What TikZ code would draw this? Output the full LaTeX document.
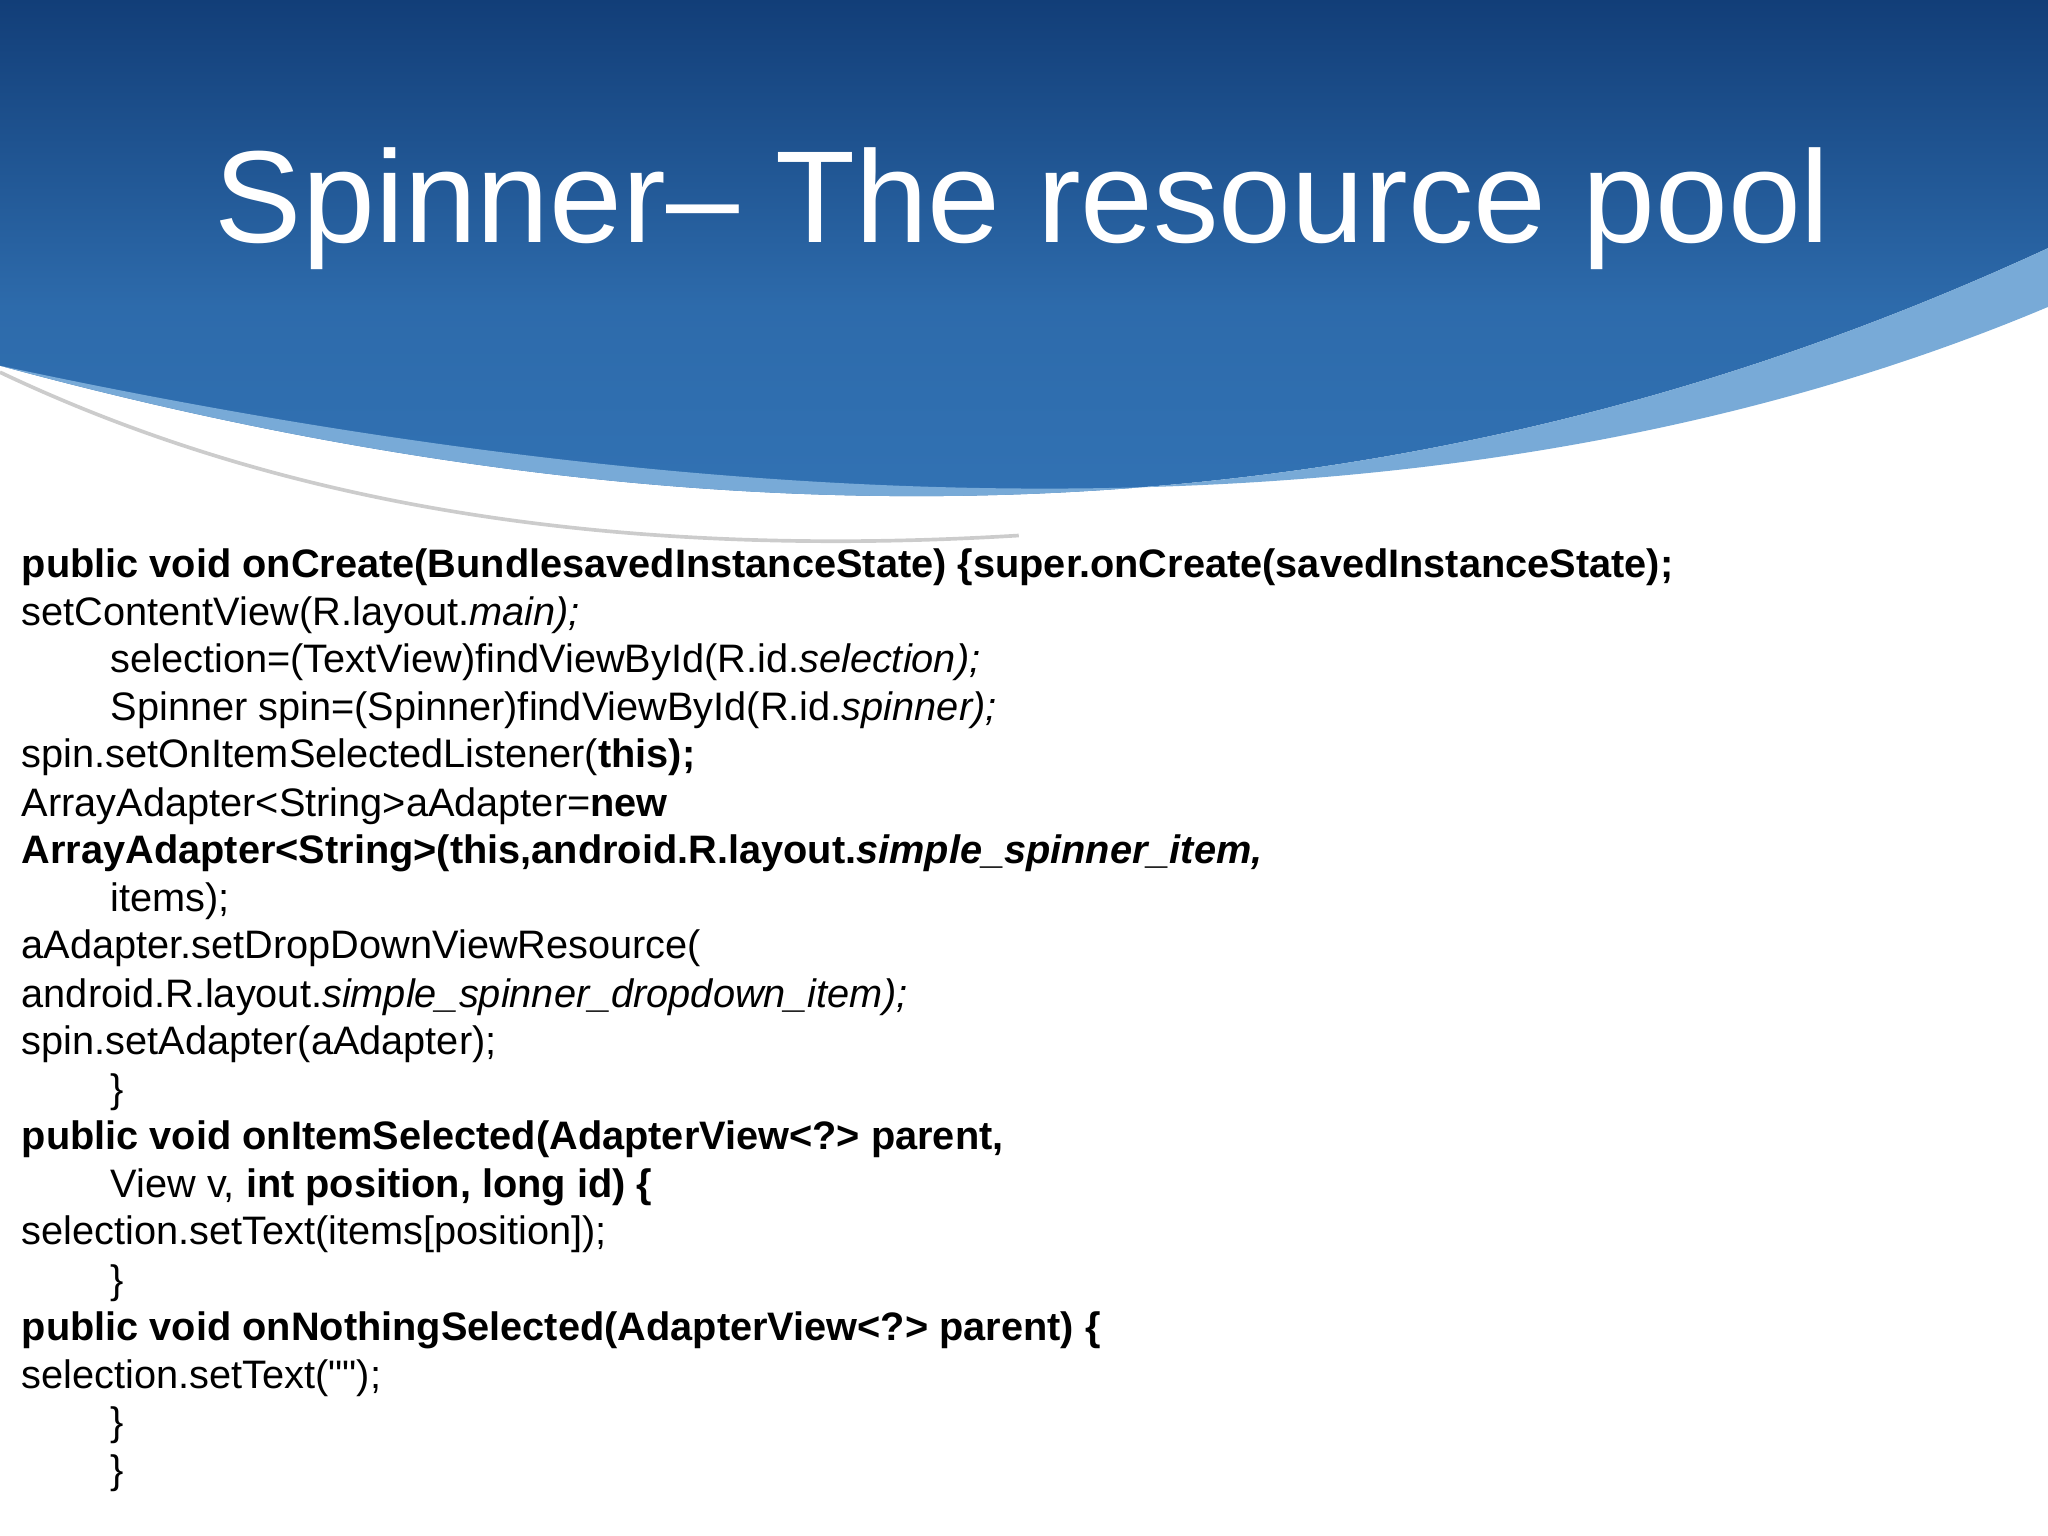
\documentclass[tikz,border=0pt]{standalone}
\usepackage{fontspec}
\setmainfont{Liberation Sans}
\newfontfamily\rawfont{Liberation Sans}
\definecolor{deepblue}{RGB}{18,62,120}
\definecolor{midblue}{RGB}{52,118,184}
\definecolor{paleblue}{RGB}{120,170,215}
\tikzset{codeline/.style={anchor=base west, inner sep=0pt, font=\fontsize{8.65}{10}\selectfont}}
\newcommand{\codeat}[3]{\node[codeline] (#1) at (#2) {#3};}
\begin{document}
\begin{tikzpicture}[x=0.01cm, y=-0.01cm]
\useasboundingbox (0,0) rectangle (1568,1176);
% Draw the banner
\shade[top color=deepblue, bottom color=midblue, middle color=midblue!80!deepblue]
  (0,0) -- (1568,0) -- (1568,190) .. controls (1200,360) and (700,470) .. (0,280) -- cycle;
\fill[paleblue] (1568,190) .. controls (1200,360) and (700,470) .. (0,280)
  .. controls (700,430) and (1200,390) .. (1568,235) -- cycle;
\draw[gray!40, line width=0.8pt] (0,285) .. controls (200,380) and (450,430) .. (780,410);
\node[white, font=\fontsize{28.5}{31}\selectfont] (title) at (783,160) {Spinner– The resource pool};

% Draw the code lines
\codeat{l1}{16,442}{\textbf{public void onCreate(BundlesavedInstanceState) \{super.onCreate(savedInstanceState);}}
\codeat{l2}{16,479}{setContentView(R.layout.\textit{main);}}
\codeat{l3}{84,515}{selection=(TextView)findViewById(R.id.\textit{selection);}}
\codeat{l4}{84,552}{Spinner spin=(Spinner)findViewById(R.id.\textit{spinner);}}
\codeat{l5}{16,588}{spin.setOnItemSelectedListener(\textbf{this);}}
\codeat{l6}{16,625}{ArrayAdapter<String>aAdapter=\textbf{new}}
\codeat{l7}{16,661}{\textbf{ArrayAdapter<String>(this,android.R.layout.\textit{simple\_spinner\_item,}}}
\codeat{l8}{84,698}{items);}
\codeat{l9}{16,734}{aAdapter.setDropDownViewResource(}
\codeat{l10}{16,771}{android.R.layout.\textit{simple\_spinner\_dropdown\_item);}}
\codeat{l11}{16,807}{spin.setAdapter(aAdapter);}
\codeat{l12}{84,844}{\}}
\codeat{l13}{16,880}{\textbf{public void onItemSelected(AdapterView<?> parent,}}
\codeat{l14}{84,917}{View v, \textbf{int position, long id) \{}}
\codeat{l15}{16,953}{selection.setText(items[position]);}
\codeat{l16}{84,990}{\}}
\codeat{l17}{16,1026}{\textbf{public void onNothingSelected(AdapterView<?> parent) \{}}
\codeat{l18}{16,1063}{selection.setText({\rawfont""});}
\codeat{l19}{84,1099}{\}}
\codeat{l20}{84,1136}{\}}
\end{tikzpicture}
\end{document}
